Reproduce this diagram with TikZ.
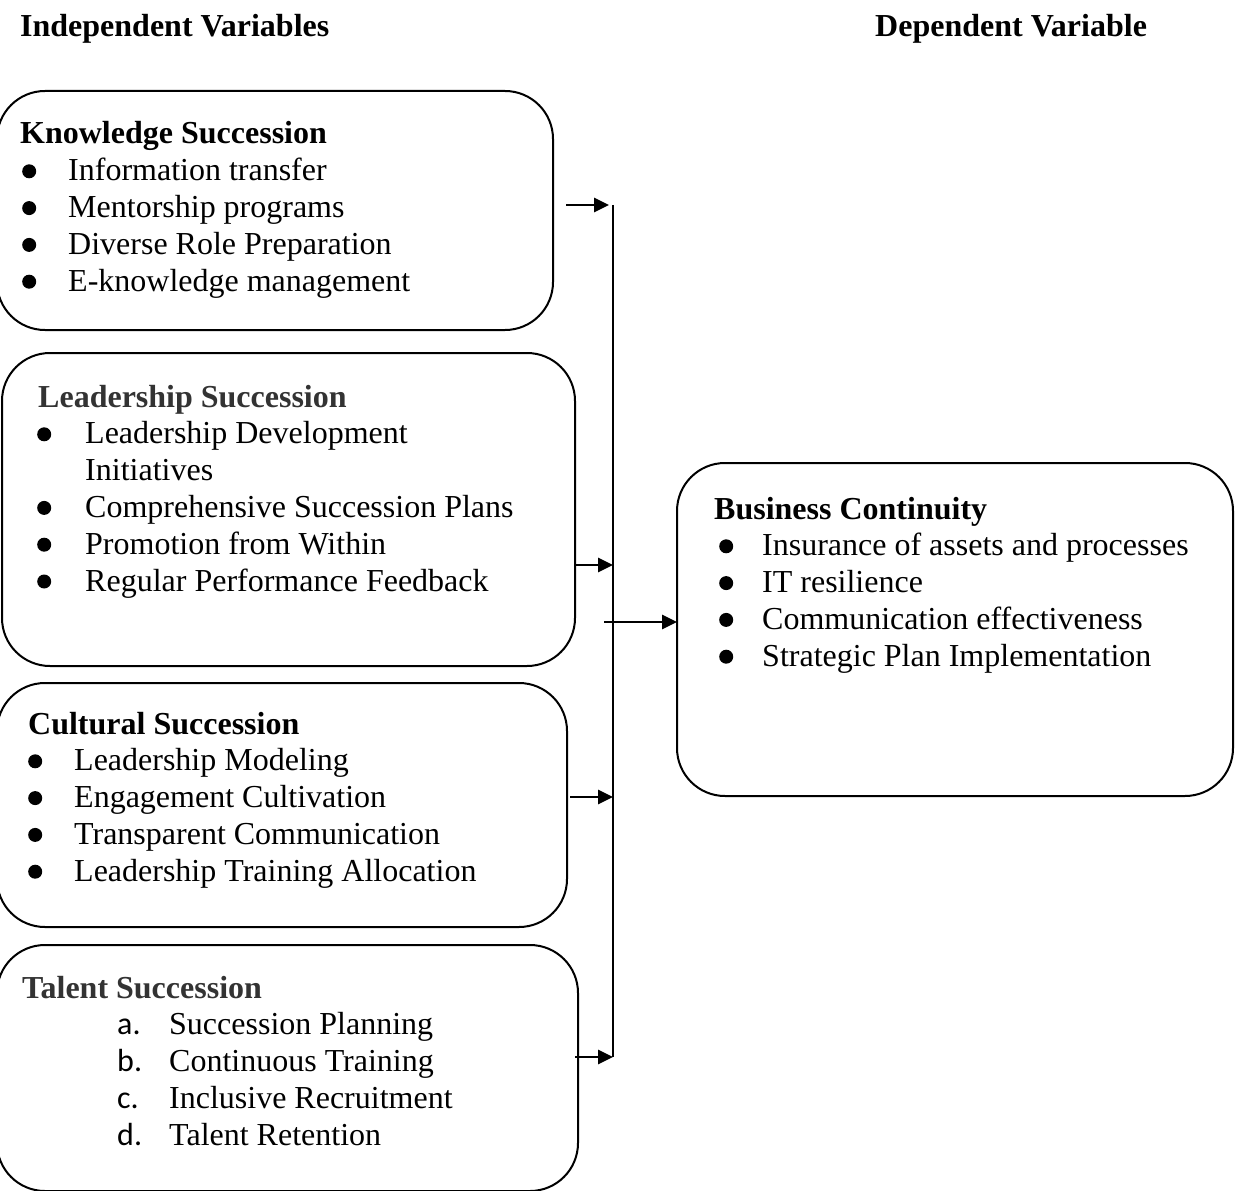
\documentclass[tikz,border=0pt]{standalone}
\usepackage{fontspec}
\setmainfont{Liberation Serif}
\newfontfamily\calibri{Carlito}
\usetikzlibrary{arrows.meta}

\definecolor{headgray}{HTML}{333333}

% big round bullet
\newcommand{\bulmark}{\tikz[baseline=0pt]\fill (0pt,9.5pt) circle[radius=7pt];}
% one bullet line: bullet centre, text start, text
\newcommand{\bl}[3]{\rlap{\hspace*{#1pt}\makebox[0pt]{\bulmark}}\hspace*{#2pt}#3}
% one lettered line
\newcommand{\al}[2]{\hspace*{95pt}\makebox[52pt][l]{\calibri #1}#2}

\tikzset{
  box/.style={draw, line width=2pt, rounded corners=48pt, inner sep=0pt, outer sep=0pt},
  txt/.style={anchor=base west, inner sep=0pt, font=\fontsize{32}{36.8}\selectfont},
  arr/.style={line width=2.8pt, -{Triangle[length=15pt,width=14pt]}},
}

\begin{document}
\begin{tikzpicture}[x=1pt,y=-1pt]
\useasboundingbox (0,0) rectangle (1238,1190);
\clip (0,0) rectangle (1238,1190);

% titles
\node[txt] (indep) at (20,37) {\textbf{Independent Variables}};
\node[txt] (dep) at (875,37) {\textbf{Dependent Variable}};

% boxes
\node[box, minimum width=556pt, minimum height=239pt] (know) at (275,210.5) {};
\node[box, minimum width=573pt, minimum height=313pt] (lead) at (288.5,509.5) {};
\node[box, minimum width=570pt, minimum height=244pt] (cult) at (282,805) {};
\node[box, minimum width=581pt, minimum height=246pt] (tal) at (287.5,1068) {};
\node[box, minimum width=556pt, minimum height=333pt] (bus) at (955,629.5) {};

% box texts
\node[txt] (knowtxt) at (20,144) {\parbox[t]{530pt}{%
  \textbf{Knowledge Succession}\\
  \bl{9}{48}{Information transfer}\\
  \bl{9}{48}{Mentorship programs}\\
  \bl{9}{48}{Diverse Role Preparation}\\
  \bl{9}{48}{E-knowledge management}}};

\node[txt] (leadtxt) at (38,407) {\parbox[t]{530pt}{%
  \textcolor{headgray}{\textbf{Leadership Succession}}\\
  \bl{6}{47}{Leadership Development}\\
  \hspace*{47pt}Initiatives\\
  \bl{6}{47}{Comprehensive Succession Plans}\\
  \bl{6}{47}{Promotion from Within}\\
  \bl{6}{47}{Regular Performance Feedback}}};

\node[txt] (culttxt) at (28,734) {\parbox[t]{530pt}{%
  \textbf{Cultural Succession}\\
  \bl{7}{46}{Leadership Modeling}\\
  \bl{7}{46}{Engagement Cultivation}\\
  \bl{7}{46}{Transparent Communication}\\
  \bl{7}{46}{Leadership Training Allocation}}};

\node[txt] (taltxt) at (22,998) {\parbox[t]{530pt}{%
  \textcolor{headgray}{\textbf{Talent Succession}}\\
  \al{a.}{Succession Planning}\\
  \al{b.}{Continuous Training}\\
  \al{c.}{Inclusive Recruitment}\\
  \al{d.}{Talent Retention}}};

\node[txt] (bustxt) at (714,519) {\parbox[t]{520pt}{%
  \textbf{Business Continuity}\\
  \bl{12}{48}{Insurance of assets and processes}\\
  \bl{12}{48}{IT resilience}\\
  \bl{12}{48}{Communication effectiveness}\\
  \bl{12}{48}{Strategic Plan Implementation}}};

% trunk line and its joints
\coordinate (j1) at (613,205);
\coordinate (j2) at (613,565);
\coordinate (j3) at (613,797);
\coordinate (j4) at (613,1057);
\coordinate (m) at (604,622);
\draw[line width=2pt] (j1) -- (j4);

% arrows
\draw[arr] ([xshift=13pt]know.east |- j1) -- ([xshift=-4pt]j1);
\draw[arr] (lead.east |- j2) -- (j2);
\draw[arr] ([xshift=3pt]cult.east |- j3) -- (j3);
\draw[arr] ([xshift=-3pt]tal.east |- j4) -- (j4);
\draw[arr] (m) -- (m -| bus.west);
\end{tikzpicture}
\end{document}
